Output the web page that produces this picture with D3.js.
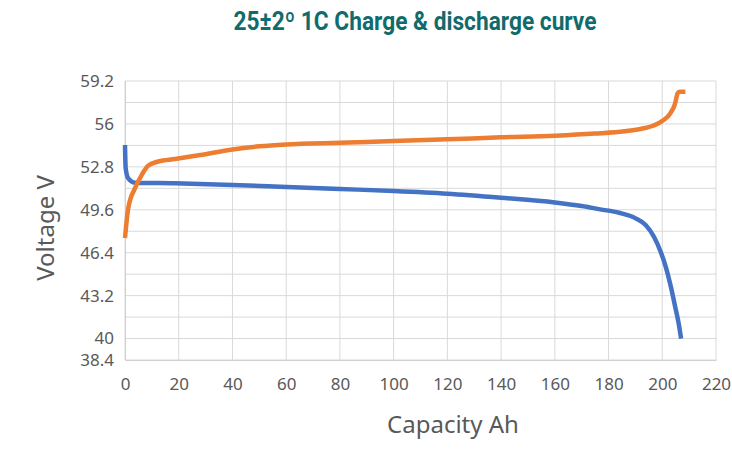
<!DOCTYPE html>
<html>
  <head>
    <meta charset="utf-8">
    <style>
      body { margin: 0; background: #fff; }
      .tick text { font: 17px "Noto Sans", "Open Sans", sans-serif; fill: #595959; }
      .grid line { stroke: #d9d9d9; stroke-width: 1; }
      .axis-title { font: 24px "Noto Sans", "Open Sans", sans-serif; fill: #595959; }
      .title { font: bold 26px Roboto, "Liberation Sans", sans-serif; fill: #116b6b; }
    </style>
    <script src="https://cdnjs.cloudflare.com/ajax/libs/d3/7.8.5/d3.min.js"></script>
  </head>
  <body>
    <script>
      // chart values
      var xTicks = [0, 20, 40, 60, 80, 100, 120, 140, 160, 180, 200, 220];
      var yTicks = [59.2, 56, 52.8, 49.6, 46.4, 43.2, 40, 38.4];
      var yGrid = d3.range(0, 14).map(function(i) { return +(38.4 + i * 1.6).toFixed(1); });

      var chargeCap = [0, 1.2, 3.7, 6.2, 8.7, 12.4, 18.6, 28, 40, 50, 60, 80, 100, 120, 140, 160, 175, 186, 191.8, 196.8, 200.5, 203, 204.8, 205.7, 206.4, 208.6];
      var chargeV   = [47.5, 49.7, 51.2, 52.19, 52.9, 53.2, 53.38, 53.68, 54.1, 54.33, 54.47, 54.6, 54.72, 54.85, 55.0, 55.12, 55.28, 55.45, 55.62, 55.88, 56.29, 56.79, 57.54, 58.28, 58.4, 58.4];

      var dischargeCap = [0, 0.25, 1.2, 3.7, 18.6, 40, 60, 80, 100, 120, 140, 160, 170, 176.9, 183.9, 190.1, 193.8, 196.9, 199.4, 201.3, 203.2, 204.8, 206.1, 207];
      var dischargeV   = [54.43, 52.69, 51.94, 51.62, 51.57, 51.45, 51.3, 51.15, 51.0, 50.8, 50.5, 50.15, 49.88, 49.63, 49.38, 48.96, 48.46, 47.59, 46.47, 45.35, 43.86, 42.37, 41.13, 40.0];

      var W = 732, H = 450;
      var plotL = 125, plotR = 716, plotT = 81, plotB = 360;

      var svg = d3.select("body").append("svg")
        .attr("width", W)
        .attr("height", H);

      var x = d3.scaleLinear().domain([0, 220]).range([plotL, plotR]);
      var y = d3.scaleLinear().domain([38.4, 59.2]).range([plotB, plotT]);

      // gridlines
      svg.append("g").attr("class", "grid")
        .selectAll("line").data(yGrid).enter().append("line")
        .attr("x1", plotL).attr("x2", plotR)
        .attr("y1", function(d) { return y(d); })
        .attr("y2", function(d) { return y(d); });
      svg.append("g").attr("class", "grid")
        .selectAll("line").data(xTicks).enter().append("line")
        .attr("x1", function(d) { return x(d); })
        .attr("x2", function(d) { return x(d); })
        .attr("y1", plotT).attr("y2", plotB);

      // axes (labels only)
      var xAxis = svg.append("g")
        .attr("transform", "translate(0," + plotB + ")")
        .call(d3.axisBottom(x).tickValues(xTicks).tickSize(0).tickPadding(18).tickFormat(d3.format("d")));
      xAxis.select(".domain").attr("stroke", "#d0d0d0");

      var yAxis = svg.append("g")
        .attr("transform", "translate(" + plotL + ",0)")
        .call(d3.axisLeft(y).tickValues(yTicks).tickSize(0).tickPadding(11).tickFormat(function(d) { return String(d); }));
      yAxis.select(".domain").attr("stroke", "#d0d0d0");

      // curves
      var line = d3.line()
        .x(function(d) { return x(d[0]); })
        .y(function(d) { return y(d[1]); })
        .curve(d3.curveMonotoneX);

      svg.append("path")
        .datum(d3.zip(dischargeCap, dischargeV))
        .attr("d", line)
        .attr("fill", "none")
        .attr("stroke", "#4472c4")
        .attr("stroke-width", 4.5);

      svg.append("path")
        .datum(d3.zip(chargeCap, chargeV))
        .attr("d", line)
        .attr("fill", "none")
        .attr("stroke", "#ed7d31")
        .attr("stroke-width", 4.5);

      // titles
      svg.append("text").attr("class", "title")
        .attr("x", 415).attr("y", 30)
        .attr("text-anchor", "middle")
        .attr("textLength", 363)
        .attr("lengthAdjust", "spacingAndGlyphs")
        .text("25±2º 1C Charge & discharge curve");

      svg.append("text").attr("class", "axis-title")
        .attr("x", 453).attr("y", 433)
        .attr("text-anchor", "middle")
        .text("Capacity Ah");

      svg.append("text").attr("class", "axis-title")
        .attr("transform", "translate(54,228) rotate(-90)")
        .attr("text-anchor", "middle")
        .text("Voltage V");
    </script>
  </body>
</html>
